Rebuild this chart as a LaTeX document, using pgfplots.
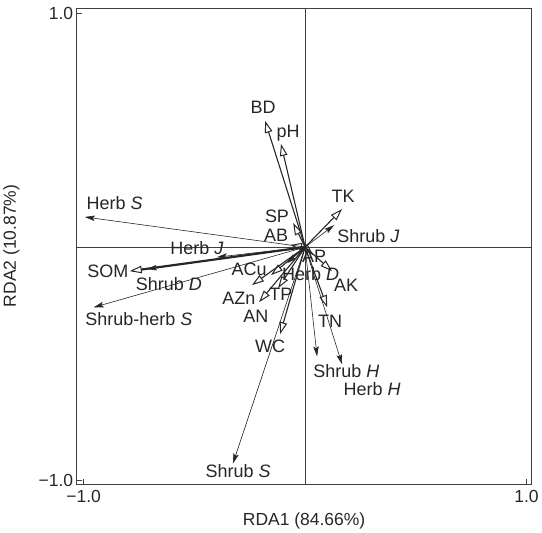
\documentclass[border=0pt]{standalone}
\usepackage{fontspec}
\setmainfont{Liberation Sans}
\usepackage{pgfplots}
\pgfplotsset{compat=1.18}
\usetikzlibrary{arrows.meta}

\tikzset{
  env/.style={line width=1.1pt, black!85, -{Triangle[open,length=12bp,width=7.5bp,line width=1pt]}},
  spc/.style={line width=0.6pt, black!85, -{Stealth[length=10bp,width=5.5bp,inset=2bp]}},
  lab/.style={font=\fontsize{18}{20}\selectfont, text=black!85, inner sep=0pt},
}

\begin{document}
\begin{tikzpicture}
\begin{axis}[
  name=ax,
  scale only axis, width=454bp, height=475bp,
  xmin=-1.032, xmax=1.023, ymin=-1.015, ymax=1.024,
  xtick={-1,1}, ytick={-1,1},
  xticklabels={−1.0,1.0}, yticklabels={−1.0,1.0},
  tick pos=left, tick align=inside, major tick length=5bp,
  tick style={black!75, line width=0.8pt},
  axis line style={black!75, line width=1pt},
  tick label style={font=\fontsize{17.5}{20}\selectfont, text=black!85},
  xticklabel style={yshift=-3bp},
  label style={font=\fontsize{17.5}{20}\selectfont, text=black!85},
  xlabel={RDA1 (84.66\%)}, ylabel={RDA2 (10.87\%)},
  xlabel style={at={(rel axis cs:0.5,0)}, anchor=center, yshift=-37bp},
  ylabel style={at={(rel axis cs:0,0.5)}, anchor=center, rotate=0, yshift=65bp},
  clip=false,
]
% zero lines
\addplot[black!75, line width=1pt] coordinates {(0,-1.015) (0,1.024)};
\addplot[black!75, line width=1pt] coordinates {(-1.032,0) (1.023,0)};

% species (solid heads)
\addplot[spc] coordinates {(0,0) (-0.995,0.129)};   % Herb S
\addplot[spc] coordinates {(0,0) (-0.955,-0.258)};  % Shrub-herb S
\addplot[spc] coordinates {(0,0) (-0.326,-0.927)};  % Shrub S
\addplot[spc] coordinates {(0,0) (0.054,-0.468)};   % Shrub H
\addplot[spc] coordinates {(0,0) (0.167,-0.502)};   % Herb H
\addplot[spc] coordinates {(0,0) (0.131,0.094)};    % Shrub J
\addplot[spc] coordinates {(0,0) (-0.398,-0.043)};  % Herb J
\addplot[spc] coordinates {(0,0) (-0.715,-0.094)};  % Shrub D
\addplot[spc] coordinates {(0,0) (-0.081,-0.069)};  % Herb D

% environmental variables (open heads)
\addplot[env] coordinates {(0,0) (-0.181,0.541)};   % BD
\addplot[env] coordinates {(0,0) (-0.109,0.442)};   % pH
\addplot[env] coordinates {(0,0) (0.167,0.163)};    % TK
\addplot[env] coordinates {(0,0) (-0.054,0.103)};   % SP
\addplot[env] coordinates {(0,0) (-0.068,0.009)};   % AB
\addplot[env, line width=2.2pt] coordinates {(0,0) (-0.792,-0.103)}; % SOM
\addplot[env] coordinates {(0,0) (-0.154,-0.120)};  % ACu
\addplot[env] coordinates {(0,0) (-0.240,-0.163)};  % AZn
\addplot[env] coordinates {(0,0) (-0.208,-0.236)};  % AN
\addplot[env] coordinates {(0,0) (-0.122,-0.176)};  % TP
\addplot[env] coordinates {(0,0) (0.036,-0.034)};   % AP
\addplot[env] coordinates {(0,0) (0.122,-0.103)};   % AK
\addplot[env] coordinates {(0,0) (0.100,-0.258)};   % TN
\addplot[env] coordinates {(0,0) (-0.113,-0.373)};  % WC

% labels
\node[lab] at (axis cs:-0.190,0.597) {BD};
\node[lab] at (axis cs:-0.077,0.489) {pH};
\node[lab] at (axis cs:0.172,0.219) {TK};
\node[lab, anchor=west] at (axis cs:0.145,0.047) {Shrub \textit{J}};
\node[lab] at (axis cs:-0.127,0.133) {SP};
\node[lab] at (axis cs:-0.131,0.050) {AB};
\node[lab] at (axis cs:-0.860,0.189) {Herb \textit{S}};
\node[lab] at (axis cs:-0.489,-0.004) {Herb \textit{J}};
\node[lab] at (axis cs:-0.891,-0.103) {SOM};
\node[lab] at (axis cs:-0.615,-0.159) {Shrub \textit{D}};
\node[lab] at (axis cs:-0.751,-0.309) {Shrub-herb \textit{S}};
\node[lab] at (axis cs:-0.253,-0.094) {ACu};
\node[lab] at (axis cs:0.025,-0.116) {Herb \textit{D}};
\node[lab] at (axis cs:-0.299,-0.219) {AZn};
\node[lab] at (axis cs:-0.222,-0.296) {AN};
\node[lab] at (axis cs:-0.109,-0.202) {TP};
\node[lab] at (axis cs:0.041,-0.040) {AP};
\node[lab] at (axis cs:0.185,-0.162) {AK};
\node[lab] at (axis cs:0.113,-0.318) {TN};
\node[lab] at (axis cs:-0.158,-0.425) {WC};
\node[lab] at (axis cs:0.186,-0.532) {Shrub \textit{H}};
\node[lab] at (axis cs:0.303,-0.609) {Herb \textit{H}};
\node[lab] at (axis cs:-0.303,-0.961) {Shrub \textit{S}};
\end{axis}
% margin above and right of the frame
\path (ax.north east) ++(8bp,8bp);
\end{tikzpicture}
\end{document}
